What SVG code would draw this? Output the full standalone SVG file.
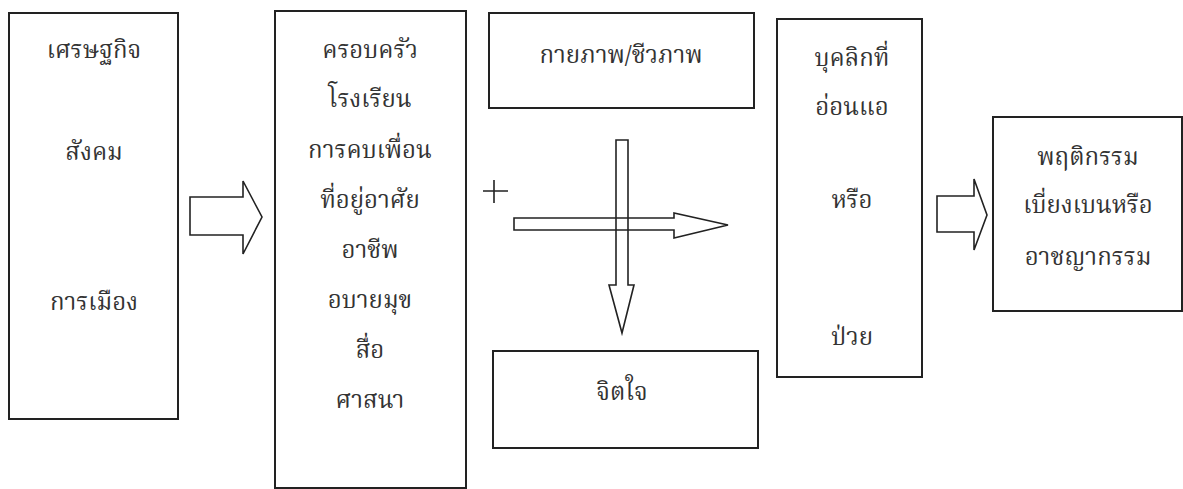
<svg xmlns="http://www.w3.org/2000/svg" width="1183" height="489" viewBox="0 0 1183 489">
<style>
.box{fill:#fff;stroke:#222;stroke-width:2}
.arr{fill:none;stroke:#222;stroke-width:1.6;stroke-linejoin:miter}
text{font-family:"Noto Serif Thai","Noto Sans Thai Looped","Noto Sans","Noto Sans Thai","DejaVu Sans",sans-serif;font-size:24px;fill:#333;text-anchor:middle}
</style>
<rect width="1183" height="489" fill="#fff"/>
<g id="n1">
<rect class="box" x="9" y="13" width="169" height="406"/>
<text x="94" y="58">เศรษฐกิจ</text>
<text x="94" y="160">สังคม</text>
<text x="94" y="310">การเมือง</text>
</g>
<g id="n2">
<rect class="box" x="275" y="11" width="191" height="477"/>
<text x="370" y="58">ครอบครัว</text>
<text x="370" y="107">โรงเรียน</text>
<text x="370" y="158">การคบเพื่อน</text>
<text x="370" y="208">ที่อยู่อาศัย</text>
<text x="370" y="258">อาชีพ</text>
<text x="370" y="308">อบายมุข</text>
<text x="370" y="358">สื่อ</text>
<text x="370" y="408">ศาสนา</text>
</g>
<g id="n3">
<rect class="box" x="489" y="13" width="265" height="95"/>
<text x="621" y="63">กายภาพ/ชีวภาพ</text>
</g>
<g id="n4">
<rect class="box" x="493" y="351" width="265" height="97"/>
<text x="622" y="400">จิตใจ</text>
</g>
<g id="n5">
<rect class="box" x="777" y="19" width="145" height="358"/>
<text x="852" y="66">บุคลิกที่</text>
<text x="852" y="115">อ่อนแอ</text>
<text x="852" y="208">หรือ</text>
<text x="852" y="345">ป่วย</text>
</g>
<g id="n6">
<rect class="box" x="993" y="117" width="189" height="194"/>
<text x="1088" y="165">พฤติกรรม</text>
<text x="1088" y="213">เบี่ยงเบนหรือ</text>
<text x="1088" y="265">อาชญากรรม</text>
</g>
<g id="connectors">
<path class="arr" d="M190,197 H243 V181 L262,217 L243,254 V235 H190 Z"/>
<path class="arr" d="M937,196 H974 V179 L987,215 L974,250 V232 H937 Z"/>
<path class="arr" d="M514,218 H674 V213 L728,225 L674,238 V230 H514 Z"/>
<path class="arr" d="M616,140 H628 V285 H634 L622,333 L609,285 H616 Z"/>
<path class="arr" d="M483,191 H508 M494,180 V203" stroke-width="1.4"/>
</g>
</svg>
